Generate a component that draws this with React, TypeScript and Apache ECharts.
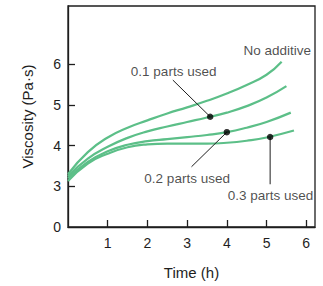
import React, { useEffect, useRef } from "react";
import * as echarts from "echarts";

const FONT = '"Liberation Sans", Arial, sans-serif';
const INK = "#1e1e1e";
const GREEN = "#5cbf88";

// Time (h) and viscosity (Pa·s)
const timeNoAdditive = [0, 0.5, 1, 1.5, 2, 2.5, 3, 3.5, 4, 4.5, 5, 5.38];
const noAdditive = [3.3, 3.84, 4.2, 4.44, 4.62, 4.79, 4.94, 5.1, 5.28, 5.49, 5.74, 6.06];

const time01 = [0, 0.5, 1, 1.5, 2, 2.5, 3, 3.5, 4, 4.5, 5, 5.5];
const parts01 = [3.25, 3.68, 3.97, 4.19, 4.35, 4.47, 4.58, 4.69, 4.81, 4.97, 5.18, 5.46];

const time02 = [0, 0.5, 1, 1.5, 2, 2.5, 3, 3.5, 4, 4.5, 5, 5.61];
const parts02 = [3.2, 3.6, 3.86, 4.02, 4.11, 4.16, 4.21, 4.26, 4.33, 4.44, 4.58, 4.81];

const time03 = [0, 0.5, 1, 1.5, 2, 2.5, 3, 3.5, 4, 4.5, 5, 5.69];
const parts03 = [3.13, 3.56, 3.8, 3.96, 4.03, 4.05, 4.05, 4.05, 4.07, 4.12, 4.2, 4.37];

// Labelled points on curves [time, viscosity]
const markedPoints = [
  [3.58, 4.71],
  [4.0, 4.33],
  [5.09, 4.21],
];
// Leader-line far ends (axis positions, in broken-axis units)
const leaderEnds = [
  [2.64, 3.61],
  [3.11, 1.48],
  [5.09, 1.05],
];
const labelTexts = ["0.1 parts used", "0.2 parts used", "0.3 parts used", "No additive"];
const labelAnchors = [
  [2.66, 3.82],
  [3.0, 1.2],
  [5.1, 0.77],
  [5.27, 4.34],
];

const xTicks = [1, 2, 3, 4, 5, 6];
const yTickLabels = [0, 3, 4, 5, 6];

// Broken y axis: 0 sits one step below 3
const toPos = (v: number) => (v === 0 ? 0 : v - 2);
const fromPos = (p: number) => (p === 0 ? 0 : p + 2);

const zip = (xs: number[], ys: number[]) => xs.map((x, i) => [x, toPos(ys[i])]);

export default function App() {
  const ref = useRef<HTMLDivElement>(null);
  useEffect(() => {
    if (!ref.current) return;
    const chart = echarts.init(ref.current, null, { renderer: "svg" });
    const curves = [
      zip(timeNoAdditive, noAdditive),
      zip(time01, parts01),
      zip(time02, parts02),
      zip(time03, parts03),
    ];
    const series: any[] = curves.map((d) => ({
      type: "line",
      data: d,
      smooth: 0.5,
      showSymbol: false,
      lineStyle: { color: GREEN, width: 2.2 },
      z: 2,
    }));
    markedPoints.forEach((pt, i) => {
      series.push({
        type: "line",
        data: [[pt[0], toPos(pt[1])], leaderEnds[i]],
        showSymbol: false,
        lineStyle: { color: INK, width: 1 },
        z: 3,
      });
    });
    series.push({
      type: "scatter",
      data: markedPoints.map((p) => [p[0], toPos(p[1])]),
      symbolSize: 6.5,
      itemStyle: { color: "#000" },
      z: 4,
    });
    series.push({
      type: "scatter",
      data: labelAnchors.map((p, i) => ({ value: p, name: labelTexts[i] })),
      symbolSize: 0,
      label: {
        show: true,
        position: "inside",
        formatter: (p: any) => p.name,
        fontFamily: FONT,
        fontSize: 13.5,
        color: INK,
        align: "center",
        verticalAlign: "middle",
      },
      z: 5,
    });

    chart.setOption({
      animation: false,
      grid: {
        left: 68,
        right: 8,
        top: 6,
        bottom: 59,
        show: true,
        borderColor: INK,
        borderWidth: 1.3,
      },
      xAxis: {
        type: "value",
        min: 0,
        max: 6.22,
        name: "Time (h)",
        nameLocation: "middle",
        nameGap: 38,
        nameTextStyle: { fontFamily: FONT, fontSize: 15, color: INK },
        axisLine: { show: true, lineStyle: { color: INK, width: 1.3 } },
        axisTick: {
          show: true,
          inside: true,
          length: 7,
          customValues: xTicks,
          lineStyle: { color: INK, width: 1.3 },
        },
        axisLabel: {
          customValues: xTicks,
          fontFamily: FONT,
          fontSize: 14,
          color: INK,
          margin: 9,
        },
        splitLine: { show: false },
      },
      yAxis: {
        type: "value",
        min: 0,
        max: 5.43,
        name: "Viscosity (Pa·s)",
        nameLocation: "middle",
        nameGap: 33,
        nameTextStyle: { fontFamily: FONT, fontSize: 15, color: INK },
        axisLine: { show: true, lineStyle: { color: INK, width: 1.3 } },
        axisTick: {
          show: true,
          inside: true,
          length: 7,
          customValues: yTickLabels.filter((v) => v !== 0).map(toPos),
          lineStyle: { color: INK, width: 1.3 },
        },
        axisLabel: {
          customValues: yTickLabels.map(toPos),
          formatter: (p: number) => String(fromPos(p)),
          fontFamily: FONT,
          fontSize: 14,
          color: INK,
          margin: 7,
        },
        splitLine: { show: false },
      },
      series,
    });
    return () => chart.dispose();
  }, []);
  return (
    <div
      ref={ref}
      style={{ position: "absolute", left: 0, top: 0, width: 323, height: 286, background: "#fff" }}
    />
  );
}
